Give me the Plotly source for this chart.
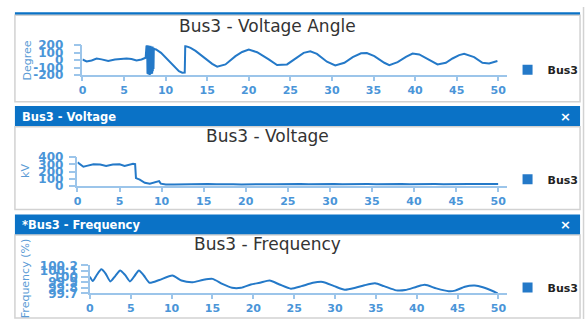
import plotly.graph_objects as go

W, H = 588, 326

# ---- Bus3 voltage angle (degrees) ----
angle_t = [0.0, 0.5, 1.1, 1.7, 2.3, 3.1, 3.9, 4.7, 5.3, 5.9, 6.5, 7.1, 7.6,
           7.70, 7.74, 7.78, 7.82, 7.86, 7.90, 7.94, 7.98, 8.02, 8.06, 8.10, 8.14,
           8.18, 8.22, 8.26, 8.30, 8.34, 8.38, 8.42, 8.46, 8.50, 8.54, 8.58, 8.62,
           8.85, 9.45, 10.4, 11.2, 11.6, 12.0, 12.3, 12.36, 12.6, 13.0, 13.6, 14.4,
           15.0, 15.6, 16.2, 17.2, 18.4, 19.2, 20.0, 21.0, 22.4, 23.4, 24.6, 25.6,
           26.6, 27.4, 28.2, 29.4, 30.4, 31.5, 32.5, 33.5, 34.2, 35.1, 36.3, 36.9,
           37.9, 38.9, 39.7, 40.5, 41.9, 42.7, 43.7, 44.5, 45.3, 45.9, 47.1, 48.1,
           48.9, 49.9]
angle_deg = [8, -18, -4, 20, 10, -12, 8, 20, 22, 16, -5, 8, 32,
             190, -170, 195, -185, 180, -190, 200, -175, 185, -190, 170, -185,
             195, -180, 190, -160, 175, -185, 185, -150, 170, -120, 160, 150,
             143, 98, -13, -100, -150, -170, -168, 192, 185, 165, 125, 55,
             5, -50, -88, -58, 53, 110, 142, 107, 9, -67, -58, 22,
             98, 118, 84, -22, -71, -36, 40, 92, 95, 53, -36, -67,
             -27, 44, 89, 76, -13, -58, -36, 22, 67, 84, 40, -36,
             -44, -13]

# ---- Bus3 voltage (kV) ----
volt_t = [0.0, 0.7, 1.1, 1.9, 2.7, 3.4, 4.2, 5.0, 5.6, 6.0, 6.6, 6.85, 6.95,
          7.4, 8.0, 8.6, 9.1, 9.7, 9.9, 10.5, 11.5, 12.5, 13.5, 14.5, 15.5,
          16.5, 17.5, 18.5, 19.5, 20.5, 21.5, 22.5, 23.5, 24.5, 25.5, 26.5,
          27.5, 28.5, 29.5, 30.5, 31.5, 32.5, 33.5, 34.5, 35.5, 36.5, 37.5,
          38.5, 39.5, 40.5, 41.5, 42.5, 43.5, 44.5, 45.5, 46.5, 47.5, 48.5,
          49.5, 50.0]
volt_kv = [330, 268, 280, 302, 300, 280, 300, 302, 280, 290, 310, 305, 110,
           88, 45, 30, 52, 68, 32, 22, 20, 23, 21, 25, 27,
           24, 28, 25, 22, 26, 29, 25, 23, 27, 30, 26,
           24, 28, 31, 27, 24, 28, 30, 26, 25, 29, 31,
           27, 24, 28, 30, 26, 25, 29, 31, 27, 26, 30,
           28, 27]

# ---- Bus3 frequency (%) ----
freq_t = [0.0, 0.35, 0.8, 1.4, 1.9, 2.5, 3.1, 3.7, 4.3, 4.9, 5.45, 6.0, 6.6,
          7.3, 8.5, 10.1, 11.2, 12.6, 13.8, 15.0, 16.2, 17.4, 18.5, 19.7, 20.8,
          22.0, 23.2, 24.6, 25.9, 27.3, 28.5, 29.9, 31.2, 32.5, 33.6, 34.9,
          36.0, 37.5, 38.6, 40.0, 41.0, 42.4, 43.9, 44.7, 45.9, 47.1, 48.1,
          49.5, 49.9]
freq_pct = [100.00, 99.92, 100.02, 100.13, 100.06, 99.915, 100.01, 100.11,
            100.03, 99.915, 100.01, 100.11, 100.02, 99.89, 99.94, 100.02, 99.93,
            99.90, 99.94, 99.96, 99.87, 99.80, 99.80, 99.86, 99.89, 99.93, 99.86,
            99.785, 99.83, 99.89, 99.905, 99.83, 99.765, 99.80, 99.845, 99.88,
            99.83, 99.755, 99.76, 99.82, 99.855, 99.79, 99.74, 99.75, 99.82,
            99.84, 99.81, 99.73, 99.70]

series_name = "Bus3"
panel_titles = ["Bus3 - Voltage Angle", "Bus3 - Voltage", "Bus3 - Frequency"]
header_titles = ["Bus3 - Voltage", "*Bus3 - Frequency"]
y_titles = ["Degree", "kV", "Frequency (%)"]

x_ticks = [0, 5, 10, 15, 20, 25, 30, 35, 40, 45, 50]
angle_ticks = [-200, -100, 0, 100, 200]
angle_tick_text = ["-200", "-100", "0", "100", "200"]
volt_ticks = [0, 100, 200, 300, 400]
volt_tick_text = ["0", "100", "200", "300", "400"]
freq_ticks = [99.7, 99.8, 99.9, 100.0, 100.1, 100.2]
freq_tick_text = ["99.7", "99.8", "99.9", "100", "100.1", "100.2"]

# ---- styling ----
FONT = "DejaVu Sans"
LINE = "#2479C8"
HEADER = "#0A72C6"
AXIS = "#9CC5EA"
TICK_TXT = "#4A95D8"
BORDER = "#D2D2D2"


def px(x):
    return x / W


def py(y):
    return 1 - y / H


fig = go.Figure()

panels = [
    dict(t=angle_t, v=angle_deg, xa="x", ya="y", leg="legend"),
    dict(t=volt_t, v=volt_kv, xa="x2", ya="y2", leg="legend2"),
    dict(t=freq_t, v=freq_pct, xa="x3", ya="y3", leg="legend3"),
]
for i, p in enumerate(panels):
    fig.add_trace(go.Scatter(
        x=p["t"], y=p["v"], mode="lines", xaxis=p["xa"], yaxis=p["ya"],
        line=dict(color=LINE, width=2,
                  shape="spline" if i == 2 else "linear", smoothing=0.6),
        showlegend=False, name=series_name, hoverinfo="skip"))
    # legend key (square swatch) for the series
    fig.add_trace(go.Scatter(
        x=[None], y=[None], mode="markers", xaxis=p["xa"], yaxis=p["ya"],
        marker=dict(symbol="square", size=10, color=LINE),
        name=series_name, legend=p["leg"], showlegend=True))

xcommon = dict(range=[0, 51], tickvals=x_ticks, showline=True, linecolor=AXIS,
               linewidth=1.5, ticks="outside", ticklen=4, tickcolor=AXIS,
               tickwidth=1.5, showgrid=False, zeroline=False,
               tickfont=dict(family=FONT, size=11, color=TICK_TXT, weight="bold"),
               fixedrange=True)
ycommon = dict(showline=True, linecolor=AXIS, linewidth=1.5, ticks="outside",
               ticklen=7, tickcolor=AXIS, tickwidth=1.5, showgrid=False,
               zeroline=False,
               tickfont=dict(family=FONT, size=12, color=TICK_TXT, weight="bold"),
               fixedrange=True)

fig.update_layout(
    width=W, height=H, margin=dict(l=0, r=0, t=0, b=0),
    paper_bgcolor="white", plot_bgcolor="rgba(0,0,0,0)",
    xaxis=dict(domain=[px(79), px(506)], anchor="y", **xcommon),
    yaxis=dict(domain=[py(71), py(40)], anchor="x", range=[-200, 200],
               tickvals=angle_ticks, ticktext=angle_tick_text,
               ticklabelstandoff=8, **ycommon),
    xaxis2=dict(domain=[px(74), px(506)], anchor="y2", **xcommon),
    yaxis2=dict(domain=[py(187), py(157)], anchor="x2", range=[0, 400],
                tickvals=volt_ticks, ticktext=volt_tick_text,
                ticklabelstandoff=3, **ycommon),
    xaxis3=dict(domain=[px(86.5), px(506)], anchor="y3", **xcommon),
    yaxis3=dict(domain=[py(299.3), py(270)], anchor="x3", range=[99.7, 100.2],
                tickvals=freq_ticks, ticktext=freq_tick_text,
                ticklabelstandoff=1, **ycommon),
)

legend_style = dict(x=px(507), xanchor="left", yanchor="middle",
                    bgcolor="rgba(0,0,0,0)", borderwidth=0,
                    font=dict(family=FONT, size=11, color="#222222", weight="bold"))
fig.update_layout(
    legend=dict(y=py(65.5), **legend_style),
    legend2=dict(y=py(180), **legend_style),
    legend3=dict(y=py(293), **legend_style),
)

# ---- panel frames and header bars ----
shapes = []


def rect(x0, y0, x1, y1, fill=None, line=None, lw=0):
    shapes.append(dict(type="rect", xref="paper", yref="paper", layer="below",
                       x0=px(x0), x1=px(x1), y0=py(y1), y1=py(y0),
                       fillcolor=fill or "rgba(0,0,0,0)",
                       line=dict(color=line or "rgba(0,0,0,0)", width=lw)))


rect(11, 5.5, 580, 8.7, fill=HEADER)
rect(11, 8.7, 580, 99, line=BORDER, lw=1.5)
rect(11, 103.5, 580, 125, fill=HEADER)
rect(11, 125, 580, 211.7, line=BORDER, lw=1.5)
rect(11, 216.7, 580, 238.3, fill=HEADER)
rect(11, 238.3, 580, 325, line=BORDER, lw=1.5)
shapes.append(dict(type="line", xref="paper", yref="paper", layer="below",
                   x0=px(583.5), x1=px(583.5), y0=0, y1=1,
                   line=dict(color=BORDER, width=1.5)))
fig.update_layout(shapes=shapes)

# ---- text ----
ann = []
for title, yc in zip(panel_titles, [20, 135, 248]):
    ann.append(dict(text=title, x=px(265), y=py(yc), xref="paper", yref="paper",
                    xanchor="center", yanchor="middle", showarrow=False,
                    font=dict(family=FONT, size=17, color="#333333")))
for title, yc in zip(header_titles, [114.5, 227.5]):
    ann.append(dict(text=title, x=px(16), y=py(yc), xref="paper", yref="paper",
                    xanchor="left", yanchor="middle", showarrow=False,
                    font=dict(family=FONT, size=11.5, color="white", weight="bold")))
    ann.append(dict(text="×", x=px(565), y=py(yc), xref="paper", yref="paper",
                    xanchor="center", yanchor="middle", showarrow=False,
                    font=dict(family=FONT, size=13, color="white", weight="bold")))
for title, xc, yc in zip(y_titles, [24, 21, 21], [56, 171.5, 283.5]):
    ann.append(dict(text=title, x=px(xc), y=py(yc), xref="paper", yref="paper",
                    xanchor="center", yanchor="middle", showarrow=False,
                    textangle=-90,
                    font=dict(family=FONT, size=11, color="#5B9BD5")))
fig.update_layout(annotations=ann)

fig.write_html("out.html")
